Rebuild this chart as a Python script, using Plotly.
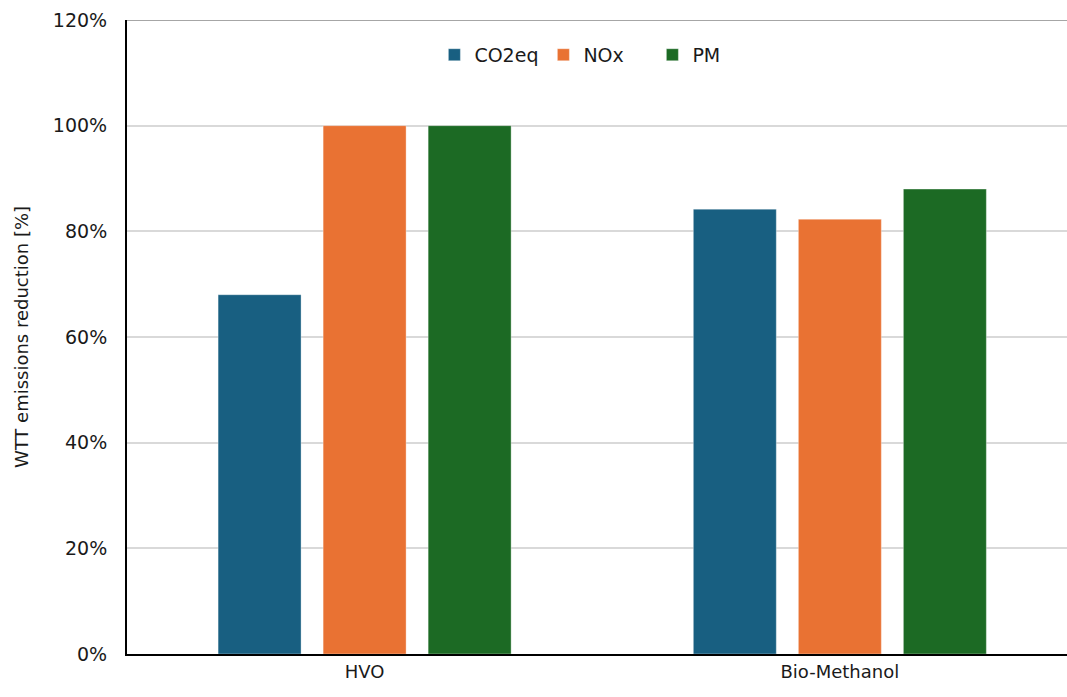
import plotly.graph_objects as go

# Fuels on the x axis and emission species as grouped series
fuels = ["HVO", "Bio-Methanol"]
species = ["CO2eq", "NOx", "PM"]
co2eq = [68.0, 84.2]
nox = [100.0, 82.3]
pm = [100.0, 88.0]
y_ticks = [0, 20, 40, 60, 80, 100, 120]

colors = {"CO2eq": "#185f81", "NOx": "#e97233", "PM": "#1c6a24"}
values = {"CO2eq": co2eq, "NOx": nox, "PM": pm}

FONT = "DejaVu Sans, Verdana, sans-serif"

fig = go.Figure()
for s in species:
    fig.add_trace(go.Bar(
        name=s,
        x=fuels,
        y=values[s],
        marker=dict(color=colors[s], line=dict(color="rgba(255,255,255,0.35)", width=1)),
    ))

fig.update_layout(
    width=1067,
    height=697,
    margin=dict(l=127, r=0, t=20, b=43),
    paper_bgcolor="white",
    plot_bgcolor="white",
    barmode="group",
    bargap=0.337,
    bargroupgap=0.21,
    font=dict(family=FONT, size=18, color="#1a1a1a"),
    showlegend=True,
    legend=dict(
        orientation="h",
        x=0.327, xanchor="left",
        y=0.945, yanchor="middle",
        font=dict(family=FONT, size=19, color="#1a1a1a"),
        itemwidth=30,
        entrywidth=64,
        entrywidthmode="pixels",
        bgcolor="rgba(0,0,0,0)",
    ),
    xaxis=dict(
        range=[-0.5, 1.478],
        showline=True,
        linecolor="black",
        linewidth=2,
        showgrid=False,
        ticks="",
        tickfont=dict(family=FONT, size=18, color="#1a1a1a"),
        fixedrange=True,
    ),
    yaxis=dict(
        range=[0, 120],
        tickvals=y_ticks,
        ticktext=[f"{v}%" for v in y_ticks],
        showline=True,
        linecolor="black",
        linewidth=2,
        showgrid=True,
        gridcolor="#d9d9d9",
        gridwidth=1.5,
        zeroline=False,
        ticks="",
        ticklabelstandoff=14,
        tickfont=dict(family=FONT, size=19, color="#1a1a1a"),
        title=dict(text="WTT emissions reduction [%]", font=dict(family=FONT, size=18, color="#1a1a1a"), standoff=20),
        fixedrange=True,
    ),
)

# Darker border line along the top of the plot area
fig.add_shape(
    type="line", xref="paper", yref="y",
    x0=0, x1=1, y0=120, y1=120,
    line=dict(color="#a6a6a6", width=2),
    layer="below",
)

fig.write_html("out.html")
